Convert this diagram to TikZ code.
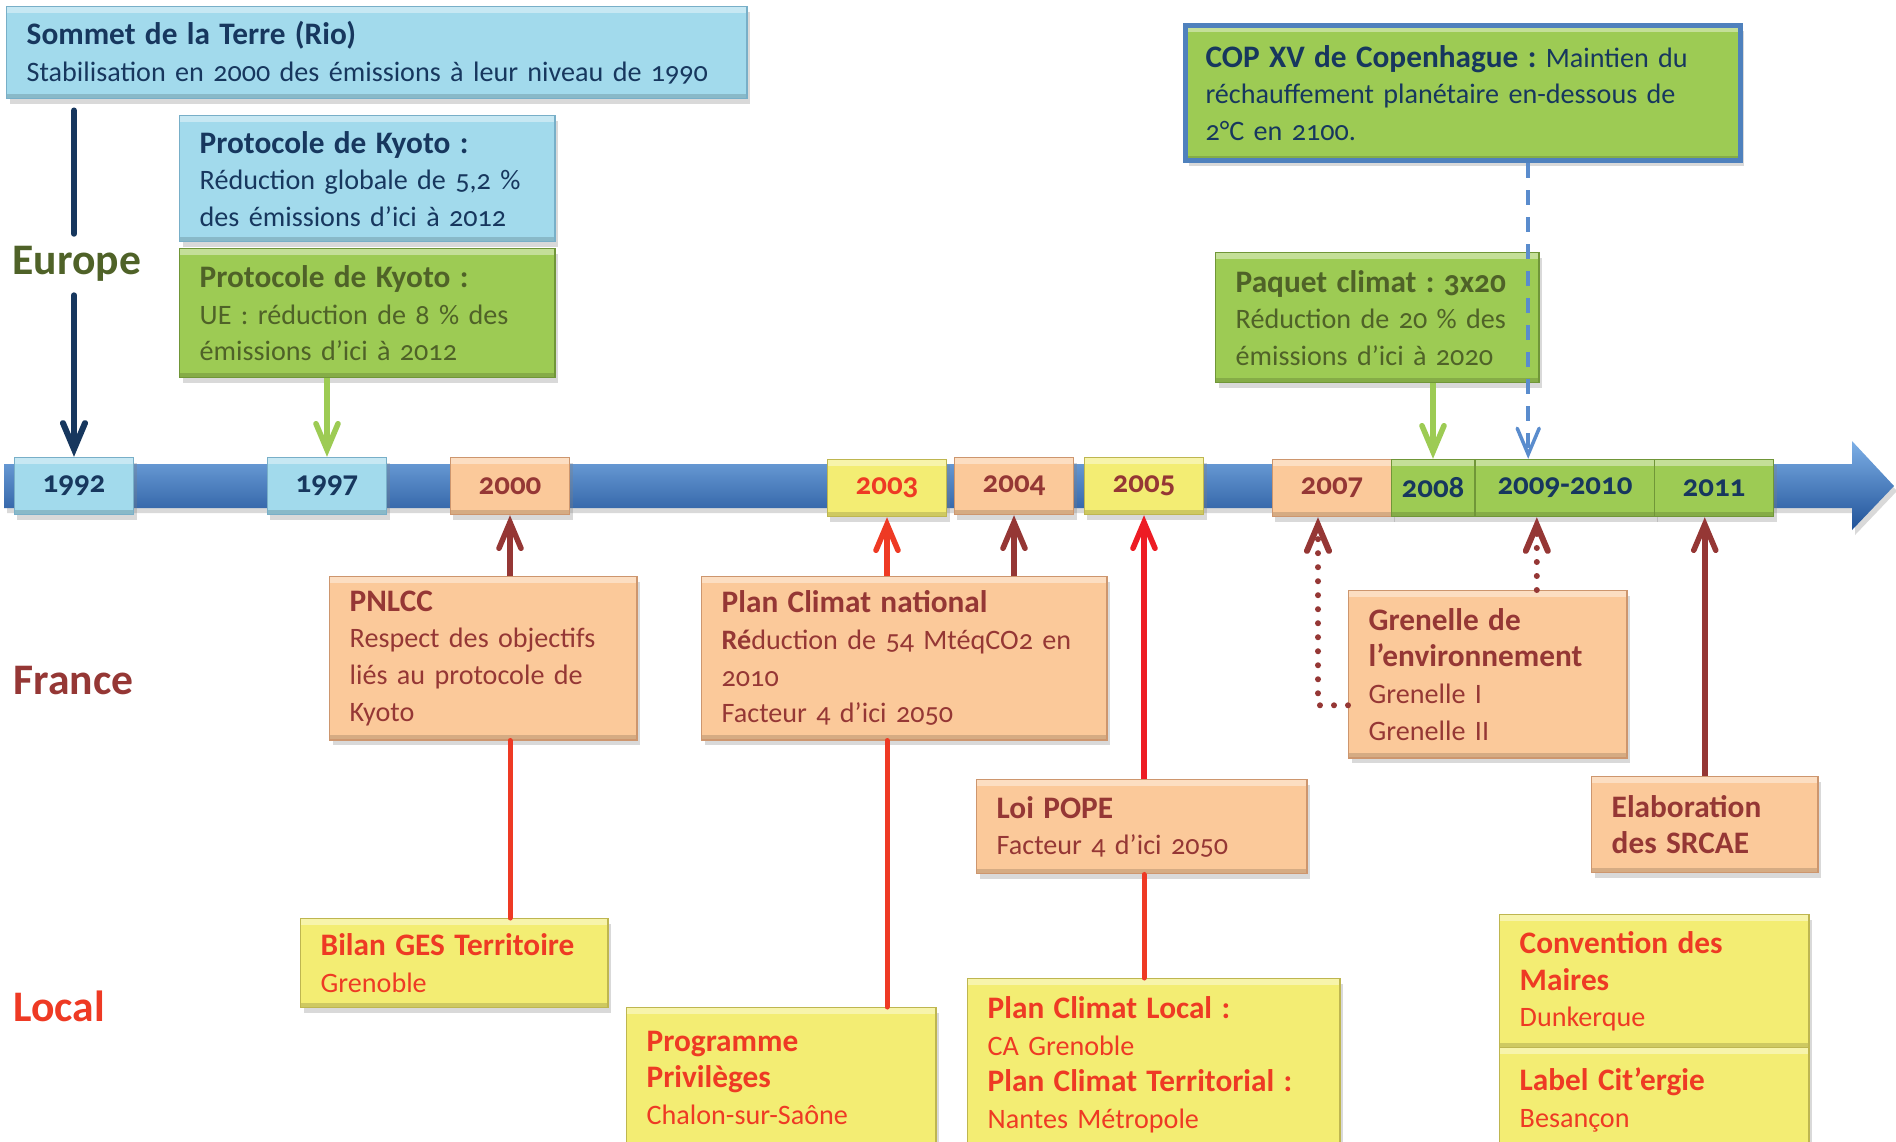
\documentclass[tikz,border=0pt]{standalone}
\usepackage{fontspec}
\setmainfont{Carlito}[Numbers=OldStyle]
\frenchspacing
\usetikzlibrary{arrows.meta,shadows}
\definecolor{sky}{RGB}{162,218,236}
\definecolor{skyedge}{RGB}{120,175,200}
\definecolor{leaf}{RGB}{157,203,84}
\definecolor{leafedge}{RGB}{112,150,56}
\definecolor{apricot}{RGB}{251,201,154}
\definecolor{apricotedge}{RGB}{205,150,110}
\definecolor{lemon}{RGB}{243,237,115}
\definecolor{lemonedge}{RGB}{190,182,80}
\definecolor{navy}{RGB}{23,55,94}
\definecolor{olive}{RGB}{79,98,40}
\definecolor{brick}{RGB}{149,55,53}
\definecolor{tomato}{RGB}{238,58,36}
\definecolor{flag}{RGB}{237,28,36}
\definecolor{copedge}{RGB}{79,129,189}
\definecolor{dashblue}{RGB}{90,140,205}
\definecolor{barhi}{RGB}{125,175,230}
\definecolor{bar}{RGB}{58,117,196}
\definecolor{barlo}{RGB}{32,82,152}
\newcommand{\cardhead}[1]{{\fontsize{8.9}{11}\selectfont\bfseries #1}}
\tikzset{
	bevel/.style={path picture={
		\fill [white,opacity=0.4] (path picture bounding box.north west) rectangle ([yshift=-0.06cm]path picture bounding box.north east);
		\fill [black,opacity=0.15] (path picture bounding box.south west) rectangle ([yshift=0.05cm]path picture bounding box.south east);
	}},
	softshadow/.style={drop shadow={shadow xshift=0.03cm,shadow yshift=-0.05cm,opacity=0.3}},
	card/.style={anchor=north west, align=left, inner xsep=0.2cm, inner ysep=0pt, line width=0.4pt, font=\fontsize{8.0}{10.4}\selectfont, bevel, softshadow},
	year/.style={minimum width=1.19cm, minimum height=0.57cm, inner sep=0pt, draw=#1, line width=0.4pt, font=\fontsize{8.8}{10}\selectfont\bfseries, bevel, softshadow},
	region/.style={anchor=west, inner sep=0pt, font=\fontsize{12.4}{14}\selectfont\bfseries},
	tip/.style={-{Straight Barb[length=0.26cm,width=0.22cm,line cap=round]}},
	navyline/.style={draw=navy, line width=0.06cm, line cap=round},
	navyarrow/.style={navyline, tip},
	leafarrow/.style={draw=leaf, line width=0.055cm, tip},
	brickarrow/.style={draw=brick, line width=0.055cm, tip},
	redarrow/.style={draw=tomato, line width=0.055cm, tip},
	flagarrow/.style={draw=flag, line width=0.055cm, tip},
	redline/.style={draw=tomato, line width=0.05cm, line cap=round},
	skydash/.style={draw=dashblue, line width=0.035cm, dash pattern=on 0.15cm off 0.12cm, tip},
	brickdots/.style={draw=brick, line width=0.06cm, line cap=round, dash pattern=on 0pt off 0.14cm, tip}
}
\begin{document}
\begin{tikzpicture}[x=0.01cm,y=-0.01cm]
		\useasboundingbox (0,0) rectangle (1896,1141);
		\clip (0,0) rectangle (1896,1141);
		\shade [top color=barhi, middle color=bar, bottom color=barlo, softshadow] (4,464)-- (1852,464)-- (1852,441)-- (1894,486)-- (1852,530)-- (1852,508)-- (4,508)-- cycle;
		\node [year=skyedge, fill=sky, text=navy] (y1992) at (74,486) {1992};
		\node [year=skyedge, fill=sky, text=navy] (y1997) at (327,486) {1997};
		\node [year=apricotedge, fill=apricot, text=brick] (y2000) at (510,486) {2000};
		\node [year=lemonedge, fill=lemon, text=tomato] (y2003) at (887,488) {2003};
		\node [year=apricotedge, fill=apricot, text=brick] (y2004) at (1014,486) {2004};
		\node [year=lemonedge, fill=lemon, text=brick] (y2005) at (1144,486) {2005};
		\node [year=apricotedge, fill=apricot, text=brick] (y2007) at (1332,488) {2007};
		\node [year=leafedge, fill=leaf, text=navy, minimum width=0.83cm] (y2008) at (1433,488) {2008};
		\node [year=leafedge, fill=leaf, text=navy, minimum width=1.80cm] (y0910) at (1565,488) {2009-2010};
		\node [year=leafedge, fill=leaf, text=navy] (y2011) at (1714,488) {2011};
		\node [region, text=olive] (europe) at (12,264) {Europe};
		\node [region, text=brick] (france) at (13,681) {France};
		\node [region, text=tomato] (local) at (13,1006) {Local};
		\node [card, fill=sky, draw=skyedge, text=navy, text width=7.0cm, minimum height=0.92cm] (sommet) at (6,6) {\cardhead{Sommet de la Terre (Rio)}\\Stabilisation en 2000 des émissions à leur niveau de 1990};
		\node [card, fill=sky, draw=skyedge, text=navy, text width=3.35cm, minimum height=1.26cm] (kyoto) at (179,115) {\cardhead{Protocole de Kyoto :}\\Réduction globale de 5,2 \%\\des émissions d’ici à 2012};
		\node [card, fill=leaf, draw=leafedge, text=olive, text width=3.35cm, minimum height=1.29cm] (kyotoUE) at (179,248) {\cardhead{Protocole de Kyoto :}\\UE : réduction de 8 \% des\\émissions d’ici à 2012};
		\node [card, fill=leaf, draw=copedge, line width=0.05cm, text=navy, text width=5.15cm, minimum height=1.35cm] (cop) at (1183,23) {\cardhead{COP XV de Copenhague :} Maintien du\\réchauffement planétaire en-dessous de\\2°C en 2100.};
		\node [card, fill=leaf, draw=leafedge, text=olive, text width=2.83cm, minimum height=1.30cm] (paquet) at (1215,252) {\cardhead{Paquet climat : 3x20}\\Réduction de 20 \% des\\émissions d’ici à 2020};
		\node [card, fill=apricot, draw=apricotedge, text=brick, text width=2.67cm, minimum height=1.63cm] (pnlcc) at (329,576) {\cardhead{PNLCC}\\Respect des objectifs\\liés au protocole de\\Kyoto};
		\node [card, fill=apricot, draw=apricotedge, text=brick, text width=3.65cm, minimum height=1.63cm] (pcn) at (701,576) {\cardhead{Plan Climat national}\\\textbf{Ré}duction de 54 MtéqCO2 en\\2010\\Facteur 4 d’ici 2050};
		\node [card, fill=apricot, draw=apricotedge, text=brick, text width=2.90cm, minimum height=0.94cm] (pope) at (976,779) {\cardhead{Loi POPE}\\Facteur 4 d’ici 2050};
		\node [card, fill=apricot, draw=apricotedge, text=brick, text width=2.38cm, minimum height=1.67cm] (grenelle) at (1348,590) {\cardhead{Grenelle de}\\\cardhead{l’environnement}\\Grenelle I\\Grenelle II};
		\node [card, fill=apricot, draw=apricotedge, text=brick, text width=1.86cm, minimum height=0.96cm] (srcae) at (1591,776) {\cardhead{Elaboration}\\\cardhead{des SRCAE}};
		\node [card, fill=lemon, draw=lemonedge, text=tomato, text width=2.67cm, minimum height=0.89cm] (bilan) at (300,918) {\cardhead{Bilan GES Territoire}\\Grenoble};
		\node [card, fill=lemon, draw=lemonedge, text=tomato, text width=2.69cm, minimum height=1.40cm] (prog) at (626,1007) {\cardhead{Programme}\\\cardhead{Privilèges}\\Chalon-sur-Saône};
		\node [card, fill=lemon, draw=lemonedge, text=tomato, text width=3.32cm, minimum height=1.72cm] (pcl) at (967,978) {\cardhead{Plan Climat Local :}\\CA Grenoble\\\cardhead{Plan Climat Territorial :}\\Nantes Métropole};
		\node [card, fill=lemon, draw=lemonedge, text=tomato, text width=2.69cm, minimum height=1.33cm] (maires) at (1499,914) {\cardhead{Convention des}\\\cardhead{Maires}\\Dunkerque};
		\node [card, fill=lemon, draw=lemonedge, text=tomato, text width=2.69cm, minimum height=1.04cm] (citergie) at (1499,1047) {\cardhead{Label Cit’ergie}\\Besançon};
		\coordinate (copfoot) at ([xshift=0.65cm]cop.south);
		\coordinate (grenleft) at ([yshift=-0.31cm]grenelle.west);
		\coordinate (grentop) at ([xshift=0.49cm]grenelle.north);
		\coordinate (y2007foot) at ([xshift=-0.14cm]y2007.south);
		\draw [navyline, shorten <=0.11cm, shorten >=0.12cm] (sommet.south -| y1992)-- (europe.north -| y1992);
		\draw [navyarrow, shorten <=0.13cm] (europe.south -| y1992)-- (y1992.north);
		\draw [leafarrow] (kyotoUE.south -| y1997)-- (y1997.north);
		\draw [leafarrow] (paquet.south -| y2008)-- (y2008.north);
		\draw [skydash] (copfoot)-- (copfoot |- y0910.north);
		\draw [brickarrow] (pnlcc.north -| y2000)-- (y2000.south);
		\draw [redarrow] (pcn.north -| y2003)-- (y2003.south);
		\draw [brickarrow] (pcn.north -| y2004)-- (y2004.south);
		\draw [flagarrow] (pope.north -| y2005)-- (y2005.south);
		\draw [brickdots] (grenleft) -| (y2007foot);
		\draw [brickdots] (grentop)-- (grentop |- y0910.south);
		\draw [brickarrow] (srcae.north)-- (srcae.north |- y2011.south);
		\draw [redline] (pnlcc.south -| y2000)-- (bilan.north -| y2000);
		\draw [redline] (pcn.south -| y2003)-- (prog.north -| y2003);
		\draw [redline] (pope.south -| y2005)-- (pcl.north -| y2005);
\end{tikzpicture}
\end{document}
